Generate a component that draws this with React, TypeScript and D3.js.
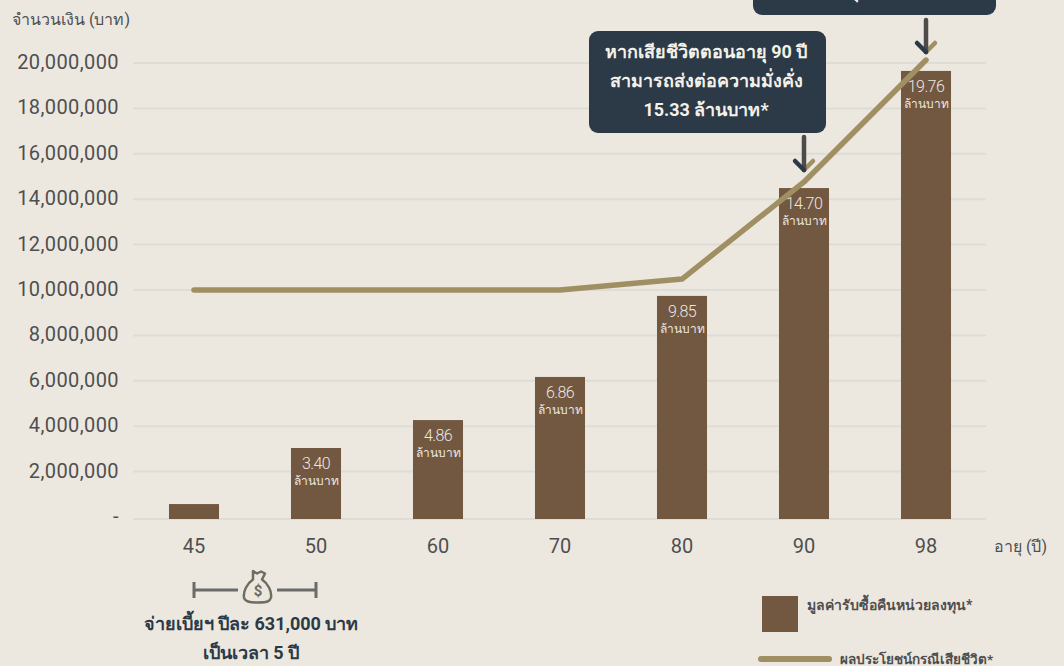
import React from 'react';
import * as d3 from 'd3';

const ages = ['45', '50', '60', '70', '80', '90', '98'];
const barValues = [570000, 3040000, 4270000, 6170000, 9740000, 14490000, 19650000];
const lineValues = [10000000, 10000000, 10000000, 10000000, 10480000, 14760000, 20130000];
const barLabels = ['', '3.40', '4.86', '6.86', '9.85', '14.70', '19.76'];
const yTicks = [0, 2000000, 4000000, 6000000, 8000000, 10000000, 12000000, 14000000, 16000000, 18000000, 20000000];

const WIDTH = 1064;
const HEIGHT = 666;
const FONT = 'Roboto, "Noto Sans", sans-serif';
const BROWN = '#725741';
const TAN = '#a08f62';
const NAVY = '#2b3a46';
const GRID = '#dedcd7';
const TEXT = '#4f4f4f';
const AXIS_Y = 519;

const x = d3.scaleBand().domain(ages).range([133, 987]).paddingInner(0.59).paddingOuter(0.295);
const y = d3.scaleLinear().domain([0, 20000000]).range([517, 63]);
const cx = (a: string) => x(a)! + x.bandwidth() / 2;
const line = d3.line<number>()
  .x((_, i) => cx(ages[i]))
  .y(d => y(d));

const Arrow = ({ at, top, tip }: { at: number; top: number; tip: number }) => (
  <g fill="none" strokeWidth={4.5} strokeLinecap="round">
    <path d={`M${at},${tip}l9,-9`} stroke={TAN} />
    <path d={`M${at},${top}V${tip}`} stroke="#4d4c48" />
    <path d={`M${at},${tip}l-9,-9`} stroke={NAVY} />
  </g>
);

const calloutText = { textAnchor: 'middle', fill: '#f4f1ea', fontSize: 18, fontWeight: 700 } as const;

export default function App() {
  return (
    <svg width={WIDTH} height={HEIGHT} viewBox={`0 0 ${WIDTH} ${HEIGHT}`} fontFamily={FONT}
      style={{ position: 'fixed', left: 0, top: 0, background: '#ece8e0' }}>
      {yTicks.map(t => (
        <g key={t}>
          <line x1={133} x2={986} y1={t === 0 ? AXIS_Y : y(t)} y2={t === 0 ? AXIS_Y : y(t)} stroke={GRID} strokeWidth={2} />
          <text x={119} y={y(t) + 6} textAnchor="end" fontSize={20} letterSpacing={0.4} fill={TEXT}>{t === 0 ? '-' : d3.format(',')(t)}</text>
        </g>
      ))}
      <text x={12} y={25} fontSize={16} fill={TEXT}>จำนวนเงิน (บาท)</text>
      {ages.map((a, i) => (
        <g key={a}>
          <rect x={x(a)} y={y(barValues[i])} width={x.bandwidth()} height={AXIS_Y - y(barValues[i])} fill={BROWN} />
          <text x={cx(a)} y={553} textAnchor="middle" fontSize={20} fill={TEXT}>{a}</text>
          {barLabels[i] && (
            <g textAnchor="middle" fill="#ece8e0">
              <text x={cx(a)} y={y(barValues[i]) + 21} fontSize={16} fontWeight={300} letterSpacing={-0.6}>{barLabels[i]}</text>
              <text x={cx(a)} y={y(barValues[i]) + 37} fontSize={12}>ล้านบาท</text>
            </g>
          )}
        </g>
      ))}
      <text x={994} y={552} fontSize={16} fill={TEXT}>อายุ (ปี)</text>
      <path d={line(lineValues)!} fill="none" stroke={TAN} strokeWidth={5.5} strokeLinecap="round" strokeLinejoin="round" />

      <rect x={589} y={31} width={237} height={102} rx={9} fill={NAVY} />
      <text x={706} y={58} {...calloutText}>หากเสียชีวิตตอนอายุ 90 ปี</text>
      <text x={706} y={87} {...calloutText}>สามารถส่งต่อความมั่งคั่ง</text>
      <text x={706} y={116} {...calloutText}>15.33 ล้านบาท*</text>

      <rect x={753} y={-40} width={243} height={55} rx={9} fill={NAVY} />
      <text x={857} y={-3} {...calloutText}>หากมีอายุครบ 98 ปี</text>

      <Arrow at={cx('90')} top={137} tip={170} />
      <Arrow at={cx('98')} top={20} tip={52} />

      <g stroke="#6b6b6b" strokeWidth={3} fill="none">
        <path d="M194,582V598M194,590H238M277,590H316M316,582V598" />
      </g>
      <g fill="none" stroke="#6f6c60" strokeWidth={2.5} strokeLinejoin="round">
        <path d="M253,571l4,2.5l4,-2l4,2l-3,6c6,4,10,12,9,18c-1,4,-4,5,-13,5c-9,0,-13,-1,-14,-5c-1,-6,3,-14,9,-18z" />
      </g>
      <text x={258} y={596} textAnchor="middle" fontSize={15} fontWeight={700} fill="#6f6c60">$</text>
      <g textAnchor="middle" fontSize={18} fontWeight={700} fill={NAVY}>
        <text x={251} y={630}>จ่ายเบี้ยฯ ปีละ 631,000 บาท</text>
        <text x={251} y={659}>เป็นเวลา 5 ปี</text>
      </g>

      <rect x={762} y={596} width={36} height={36} fill={BROWN} />
      <text x={807} y={610} fontSize={14} fontWeight={700} fill={TEXT}>มูลค่ารับซื้อคืนหน่วยลงทุน*</text>
      <line x1={761} x2={829} y1={659} y2={659} stroke={TAN} strokeWidth={6} strokeLinecap="round" />
      <text x={840} y={664} fontSize={13.5} fontWeight={700} fill={TEXT}>ผลประโยชน์กรณีเสียชีวิต*</text>
    </svg>
  );
}
